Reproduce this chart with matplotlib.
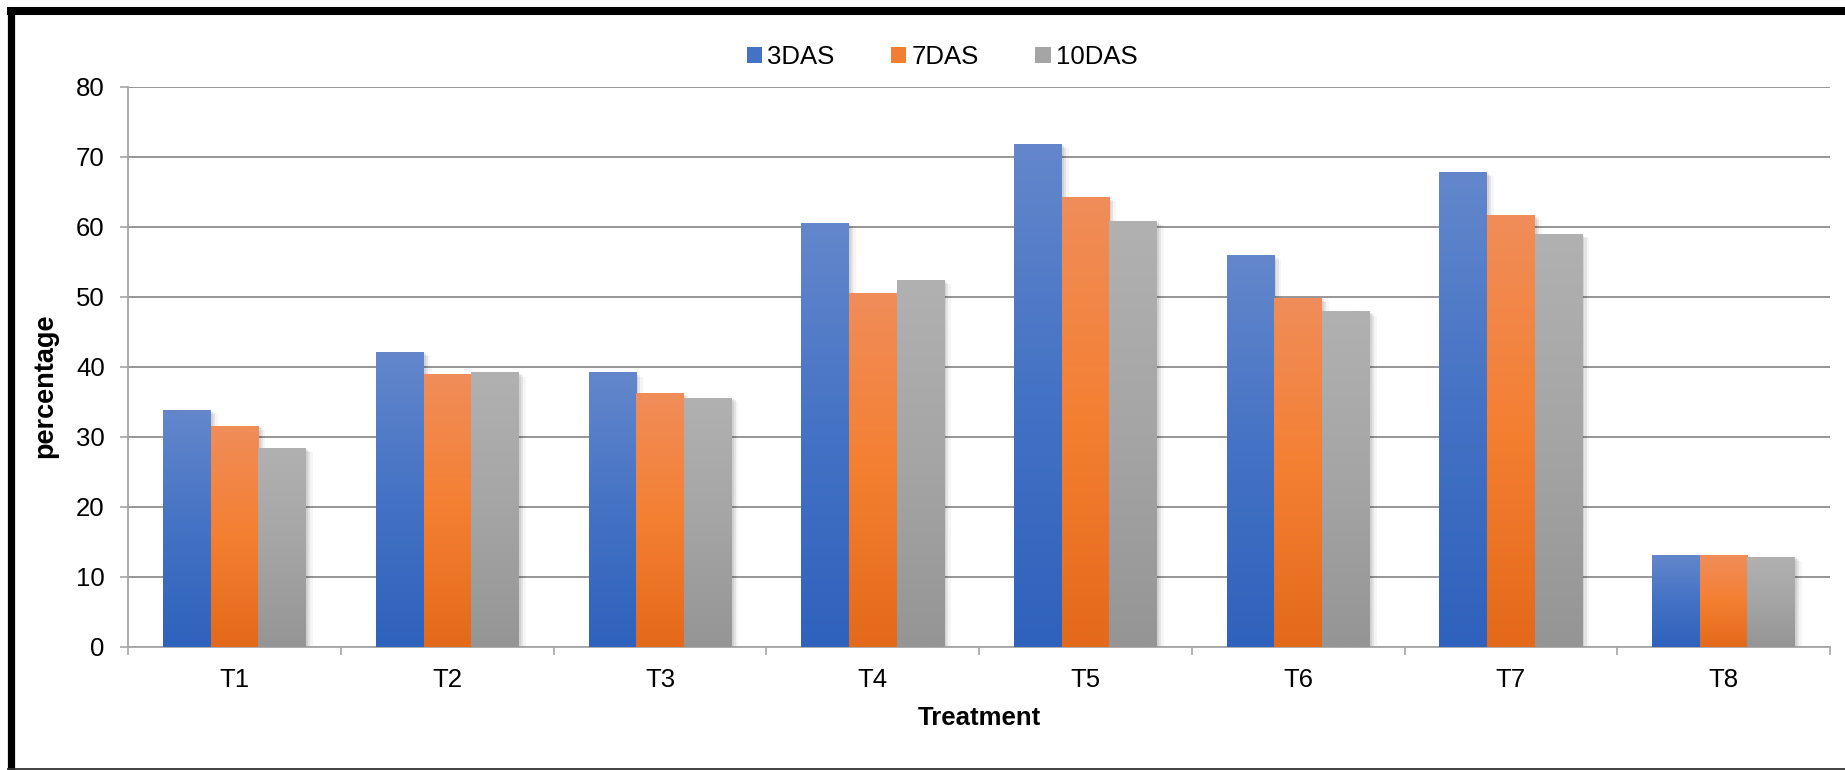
import matplotlib
matplotlib.use('Agg')
import matplotlib.pyplot as plt
import matplotlib.patheffects as pe
import numpy as np
from matplotlib.colors import LinearSegmentedColormap
from matplotlib.lines import Line2D
from matplotlib.patches import Patch

treatments = ['T1', 'T2', 'T3', 'T4', 'T5', 'T6', 'T7', 'T8']
das3 = [33.8, 42.1, 39.2, 60.5, 71.8, 55.9, 67.8, 13.2]
das7 = [31.6, 38.9, 36.2, 50.5, 64.2, 49.8, 61.6, 13.1]
das10 = [28.4, 39.2, 35.6, 52.4, 60.8, 47.9, 58.9, 12.9]
series_names = ['3DAS', '7DAS', '10DAS']

# bottom -> middle -> top colours of each bar gradient
gradients = [
    ['#2f62bd', '#4472c4', '#6487cc'],
    ['#e4691a', '#f47f31', '#f08d5a'],
    ['#959595', '#a5a5a5', '#b1b1b1'],
]
legend_colors = ['#4472c4', '#f27d33', '#a5a5a5']

plt.rcParams['font.family'] = ['Liberation Sans', 'DejaVu Sans']

W, H = 1845, 770
fig = plt.figure(figsize=(W / 100, H / 100), dpi=100)
fig.patch.set_facecolor('white')

# plot area in pixels
left, right, top, bottom = 128.3, 1830, 86.5, 647
ax = fig.add_axes([left / W, 1 - bottom / H, (right - left) / W, (bottom - top) / H])

x = np.arange(len(treatments))
width = 0.224
grad = np.linspace(0, 1, 256).reshape(-1, 1)

# soft shadow: a few faint offset copies
shadow = [pe.SimplePatchShadow(offset=(5, -3), shadow_rgbFace='#000000', alpha=0.04),
          pe.SimplePatchShadow(offset=(3, -2), shadow_rgbFace='#000000', alpha=0.07),
          pe.SimplePatchShadow(offset=(1.5, -1), shadow_rgbFace='#000000', alpha=0.08),
          pe.Normal()]

for i, vals in enumerate([das3, das7, das10]):
    cmap = LinearSegmentedColormap.from_list('g%d' % i, gradients[i])
    bars = ax.bar(x + (i - 1) * width, vals, width, color=gradients[i][1],
                  linewidth=0, zorder=2, path_effects=shadow)
    for b in bars:
        x0 = b.get_x()
        h = b.get_height()
        im = ax.imshow(grad, extent=[x0, x0 + width, 0, h], origin='lower',
                       cmap=cmap, aspect='auto', zorder=3, interpolation='bilinear')
        im.set_clip_path(b)

ax.set_xlim(-0.5, len(treatments) - 0.5)
ax.set_ylim(0, 80)
ax.set_yticks(range(0, 81, 10))
ax.set_xticks(x)
ax.set_xticklabels(treatments)
ax.set_xticks(np.arange(-0.5, len(treatments), 1), minor=True)

ax.tick_params(axis='x', which='major', length=0, pad=15, labelsize=18.5)
ax.tick_params(axis='x', which='minor', length=6, color='#a6a6a6', width=1.2)
ax.tick_params(axis='y', length=6, color='#a6a6a6', width=1.2, pad=11, labelsize=18.5)

ax.yaxis.grid(True, color='#969696', linewidth=1.4, zorder=0)
ax.set_axisbelow(True)
for s in ['top', 'right']:
    ax.spines[s].set_visible(False)
for s in ['left', 'bottom']:
    ax.spines[s].set_color('#a6a6a6')
    ax.spines[s].set_linewidth(1.3)

fig.text(45 / W, 1 - 386 / H, 'percentage', rotation=90, ha='center', va='center',
         fontsize=19.5, fontweight='bold')
fig.text((left + right) / 2 / W, 1 - 718 / H, 'Treatment', ha='center', va='center',
         fontsize=18.5, fontweight='bold')

handles = [Patch(facecolor=c, edgecolor='none') for c in legend_colors]
fig.legend(handles, series_names, loc='center', bbox_to_anchor=(942 / W, 1 - 57 / H),
           ncol=3, frameon=False, fontsize=18.5, handlelength=0.6, handleheight=0.55,
           handletextpad=0.2, columnspacing=2.2)

# outer frame
fig.add_artist(Line2D([7 / W, 1], [1 - 11 / H, 1 - 11 / H], color='black', linewidth=5.8,
                      transform=fig.transFigure, solid_capstyle='butt'))
fig.add_artist(Line2D([10.5 / W, 10.5 / W], [0, 1 - 7 / H], color='black', linewidth=5.2,
                      transform=fig.transFigure, solid_capstyle='butt'))
fig.add_artist(Line2D([7 / W, 1], [1 - 768.5 / H, 1 - 768.5 / H], color='#333333', linewidth=1.3,
                      transform=fig.transFigure, solid_capstyle='butt'))

fig.savefig('out.png', dpi=100)
